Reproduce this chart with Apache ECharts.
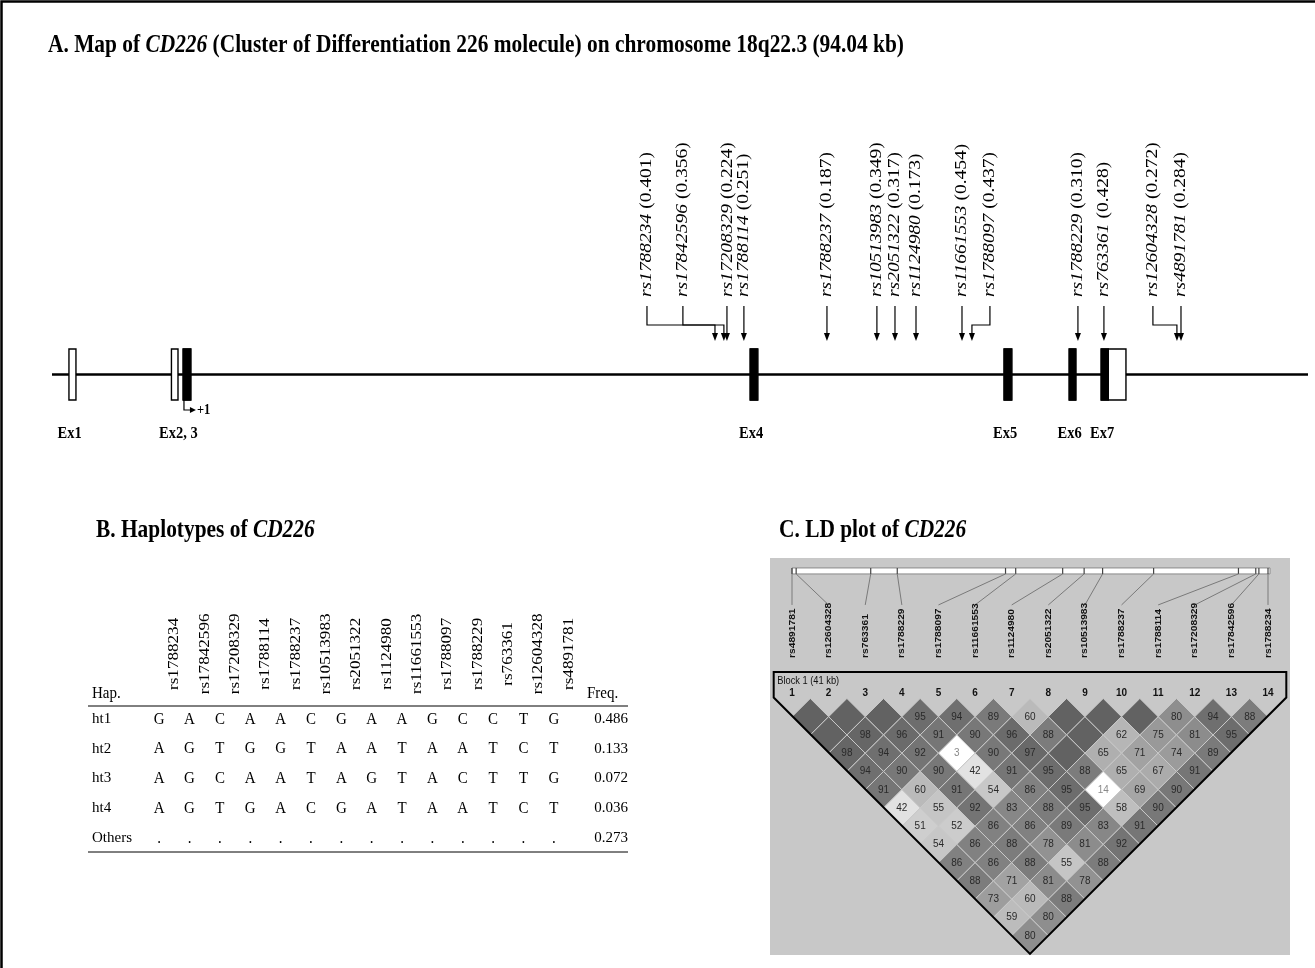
<!DOCTYPE html>
<html><head><meta charset="utf-8">
<script src="https://cdn.jsdelivr.net/npm/echarts@6/dist/echarts.min.js"></script>
<style>html,body{margin:0;padding:0;background:#fff}#c{width:1315px;height:968px}</style>
</head><body><div id="c"></div>
<script>
// ---------------- DATA ----------------
// SNPs in gene-map order (left to right), minor allele frequency, position (kb from start of Ex1)
const snpIds = ['rs1788234','rs17842596','rs17208329','rs1788114','rs1788237','rs10513983','rs2051322','rs1124980','rs11661553','rs1788097','rs1788229','rs763361','rs12604328','rs4891781'];
const snpMaf = [0.401,0.356,0.224,0.251,0.187,0.349,0.317,0.173,0.454,0.437,0.310,0.428,0.272,0.284];
const snpPosKb = [57.17,57.96,58.23,59.73,67.08,71.50,73.10,74.96,79.03,79.91,89.29,91.59,98.05,98.41];

// exons (kb), coding part of each exon (null = untranslated only)
const exonNames   = ['Ex1','Ex2','Ex3','Ex4','Ex5','Ex6','Ex7'];
const exonStartKb = [0.00, 9.07, 10.09, 60.27, 82.74, 88.50, 91.33];
const exonEndKb   = [0.62, 9.65, 10.80, 60.97, 83.45, 89.12, 93.54];
const cdsStartKb  = [null, null, 10.09, 60.27, 82.74, 88.50, 91.33];
const cdsEndKb    = [null, null, 10.80, 60.97, 83.45, 89.12, 92.04];
const exonLabels  = ['Ex1','Ex2, 3','Ex4','Ex5','Ex6','Ex7'];
const exonLabelGroups = [[0],[1,2],[3],[4],[5],[6]];
const regionKb = [-1.5, 109.65];
const txStartKb = 10.09; // +1

// haplotypes
const hapNames = ['ht1','ht2','ht3','ht4','Others'];
const ht1 = ['G','A','C','A','A','C','G','A','A','G','C','C','T','G'];
const ht2 = ['A','G','T','G','G','T','A','A','T','A','A','T','C','T'];
const ht3 = ['A','G','C','A','A','T','A','G','T','A','C','T','T','G'];
const ht4 = ['A','G','T','G','A','C','G','A','T','A','A','T','C','T'];
const htOthers = ['.','.','.','.','.','.','.','.','.','.','.','.','.','.'];
const hapFreq = [0.486,0.133,0.072,0.036,0.273];

// LD plot (D' x100), markers in Haploview order; row dN = pairs (i, i+N); 100 = D'=1 (blank)
const ldMarkers = ['rs4891781','rs12604328','rs763361','rs1788229','rs1788097','rs11661553','rs1124980','rs2051322','rs10513983','rs1788237','rs1788114','rs17208329','rs17842596','rs1788234'];
const ldD1  = [100,100,100,95,94,89,60,100,100,100,80,94,88];
const ldD2  = [100,98,96,91,90,96,88,100,62,75,81,95];
const ldD3  = [98,94,92,3,90,97,100,65,71,74,89];
const ldD4  = [94,90,90,42,91,95,88,65,67,91];
const ldD5  = [91,60,91,54,86,95,14,69,90];
const ldD6  = [42,55,92,83,88,95,58,90];
const ldD7  = [51,52,86,86,89,83,91];
const ldD8  = [54,86,88,78,81,92];
const ldD9  = [86,86,88,55,88];
const ldD10 = [88,71,81,78];
const ldD11 = [73,60,88];
const ldD12 = [59,80];
const ldD13 = [80];
const blockName = 'Block 1 (41 kb)';

// ---------------- LAYOUT / STYLE ----------------
const SERIF = '"Times New Roman","Liberation Serif",serif';
const SANS = '"Liberation Sans",Arial,sans-serif';
const K = 1.18; // vertical glyph stretch of the original figure
const snpLabelShiftPx = [-68,-41,1,0,0,0,0,0,0,18,0,0,-24,0];

const ldRows = [ldD1,ldD2,ldD3,ldD4,ldD5,ldD6,ldD7,ldD8,ldD9,ldD10,ldD11,ldD12,ldD13];
const ldPairs = [];
ldRows.forEach((row, r) => row.forEach((v, k) => ldPairs.push([k + 1, k + 2 + r, v])));
const kbMin = Math.min(...snpPosKb), kbMax = Math.max(...snpPosKb);
const physIdx = name => 1 + (kbMax - snpPosKb[snpIds.indexOf(name)]) / (kbMax - kbMin) * (ldMarkers.length - 1);

const hapRows = [ht1, ht2, ht3, ht4, htOthers];
const alleleData = [];
hapRows.forEach((row, r) => row.forEach((a, c) => alleleData.push([c, r, a])));

function grayOf(v) { const g = Math.min(255, Math.round(98 + (100 - v) * 2.2)); return 'rgb(' + g + ',' + g + ',' + g + ')'; }
function arrowHead(x, y) { return { type: 'polygon', shape: { points: [[x, y], [x - 3, y - 8], [x + 3, y - 8]] }, style: { fill: '#000' } }; }

const chart = echarts.init(document.getElementById('c'));
const option = {
  animation: false,
  backgroundColor: '#fff',
  grid: [
    { left: 52, width: 1256, top: 349, height: 51, outerBoundsMode: 'none' },
    { left: 144, width: 425, top: 704, height: 149, outerBoundsMode: 'none' },
    { left: 792, width: 476, top: 698.45, height: 255.5, outerBoundsMode: 'none' }
  ],
  xAxis: [
    { gridIndex: 0, type: 'value', min: regionKb[0], max: regionKb[1], show: false },
    { gridIndex: 1, type: 'category', data: snpIds, show: false },
    { gridIndex: 2, type: 'value', min: 1, max: 14, show: false }
  ],
  yAxis: [
    { gridIndex: 0, type: 'value', min: 0, max: 1, show: false },
    { gridIndex: 1, type: 'category', data: hapNames, inverse: true,
      axisLine: { show: false }, axisTick: { show: false }, splitLine: { show: false },
      axisLabel: { align: 'left', margin: 52, fontFamily: SERIF, fontSize: 15, color: '#000' } },
    { gridIndex: 1, type: 'category', position: 'right', data: hapFreq.map(f => f.toFixed(3)), inverse: true,
      axisLine: { show: false }, axisTick: { show: false }, splitLine: { show: false },
      axisLabel: { align: 'right', margin: 59, fontFamily: SERIF, fontSize: 15, color: '#000' } },
    { gridIndex: 2, type: 'value', min: 0, max: 14, inverse: true, show: false }
  ],
  graphic: [
    { type: 'polyline', shape: { points: [[1.5, 968], [1.5, 1.5], [1315, 1.5]] }, style: { fill: null, stroke: '#000', lineWidth: 2.5 } },
    { type: 'rect', shape: { x: 770, y: 558, width: 520, height: 397 }, style: { fill: '#c8c8c8' } },
    { type: 'text', x: 48, y: 45, scaleY: K, style: { text: 'A. Map of {i|CD226} (Cluster of Differentiation 226 molecule) on chromosome 18q22.3 (94.04 kb)',
      rich: { i: { fontStyle: 'italic', fontWeight: 'bold', fontFamily: SERIF, fontSize: 21.4 } },
      fontFamily: SERIF, fontWeight: 'bold', fontSize: 21.4, fill: '#000', verticalAlign: 'middle' } },
    { type: 'text', x: 96, y: 530, scaleY: K, style: { text: 'B. Haplotypes of {i|CD226}',
      rich: { i: { fontStyle: 'italic', fontWeight: 'bold', fontFamily: SERIF, fontSize: 21.4 } },
      fontFamily: SERIF, fontWeight: 'bold', fontSize: 21.4, fill: '#000', verticalAlign: 'middle' } },
    { type: 'text', x: 779, y: 530, scaleY: K, style: { text: 'C. LD plot of {i|CD226}',
      rich: { i: { fontStyle: 'italic', fontWeight: 'bold', fontFamily: SERIF, fontSize: 21.4 } },
      fontFamily: SERIF, fontWeight: 'bold', fontSize: 21.4, fill: '#000', verticalAlign: 'middle' } },
    { type: 'line', shape: { x1: 88, y1: 706, x2: 628, y2: 706 }, style: { stroke: '#000', lineWidth: 1 } },
    { type: 'line', shape: { x1: 88, y1: 852, x2: 628, y2: 852 }, style: { stroke: '#000', lineWidth: 1 } },
    { type: 'text', x: 92, y: 693, scaleY: K, style: { text: 'Hap.', fontFamily: SERIF, fontSize: 15, fill: '#000', verticalAlign: 'middle' } },
    { type: 'text', x: 587, y: 693, scaleY: K, style: { text: 'Freq.', fontFamily: SERIF, fontSize: 15, fill: '#000', verticalAlign: 'middle' } }
  ],
  series: [
    { // gene backbone
      type: 'custom', xAxisIndex: 0, yAxisIndex: 0, silent: true,
      data: [[regionKb[0], regionKb[1]]],
      renderItem: (p, api) => {
        const a = api.coord([api.value(0), 0.5]), b = api.coord([api.value(1), 0.5]);
        return { type: 'line', shape: { x1: a[0], y1: a[1], x2: b[0], y2: b[1] }, style: { stroke: '#000', lineWidth: 2.5 } };
      }
    },
    { // exons
      type: 'custom', xAxisIndex: 0, yAxisIndex: 0, silent: true,
      data: exonStartKb.map((s, i) => [s, exonEndKb[i]]),
      renderItem: (p, api) => {
        const i = p.dataIndex;
        const a = api.coord([api.value(0), 1]), b = api.coord([api.value(1), 0]);
        const ch = [{ type: 'rect', shape: { x: a[0], y: a[1], width: b[0] - a[0], height: b[1] - a[1] }, style: { fill: '#fff', stroke: '#000', lineWidth: 1.4 } }];
        if (cdsStartKb[i] !== null) {
          const c = api.coord([cdsStartKb[i], 1]), d = api.coord([cdsEndKb[i], 0]);
          ch.push({ type: 'rect', shape: { x: c[0], y: c[1] - 0.7, width: d[0] - c[0], height: d[1] - c[1] + 1.4 }, style: { fill: '#000' } });
        }
        return { type: 'group', children: ch };
      }
    },
    { // exon labels
      type: 'custom', xAxisIndex: 0, yAxisIndex: 0, silent: true,
      data: exonLabelGroups.map(g => {
        const last = g[g.length - 1];
        return [(exonStartKb[g[0]] + (cdsEndKb[last] !== null ? cdsEndKb[last] : exonEndKb[last])) / 2 - 0.25];
      }),
      renderItem: (p, api) => {
        const a = api.coord([api.value(0), 0]);
        return { type: 'text', x: a[0], y: a[1] + 34, scaleY: K, style: { text: exonLabels[p.dataIndex], fontFamily: SERIF, fontWeight: 'bold', fontSize: 14.5, fill: '#000', align: 'center', verticalAlign: 'middle' } };
      }
    },
    { // +1 transcription/translation start
      type: 'custom', xAxisIndex: 0, yAxisIndex: 0, silent: true,
      data: [[txStartKb]],
      renderItem: (p, api) => {
        const a = api.coord([api.value(0), 0]);
        const x = a[0] + 1, y = a[1];
        return { type: 'group', children: [
          { type: 'polyline', shape: { points: [[x, y], [x, y + 10], [x + 8, y + 10]] }, style: { stroke: '#000', lineWidth: 1.2, fill: null } },
          { type: 'polygon', shape: { points: [[x + 12, y + 10], [x + 6, y + 7], [x + 6, y + 13]] }, style: { fill: '#000' } },
          { type: 'text', x: x + 13, y: y + 10, scaleY: K, style: { text: '+1', fontFamily: SERIF, fontWeight: 'bold', fontSize: 12.5, fill: '#000', verticalAlign: 'middle' } }
        ] };
      }
    },
    { // SNP arrows and labels
      type: 'custom', xAxisIndex: 0, yAxisIndex: 0, silent: true,
      data: snpPosKb.map((kb, i) => [kb, snpMaf[i]]),
      renderItem: (p, api) => {
        const i = p.dataIndex;
        const a = api.coord([api.value(0), 1]);
        const ax = a[0], top = a[1];
        const lx = ax + snpLabelShiftPx[i];
        const lineTop = top - 43, elbow = top - 24, tip = top - 8;
        const ch = [];
        if (Math.abs(lx - ax) > 1.5) {
          ch.push({ type: 'polyline', shape: { points: [[lx, lineTop], [lx, elbow], [ax, elbow], [ax, tip - 4]] }, style: { stroke: '#000', lineWidth: 1.2, fill: null } });
        } else {
          ch.push({ type: 'line', shape: { x1: ax, y1: lineTop, x2: ax, y2: tip - 4 }, style: { stroke: '#000', lineWidth: 1.2 } });
        }
        ch.push(arrowHead(ax, tip));
        ch.push({ type: 'text', x: lx, y: top - 52, rotation: Math.PI / 2, scaleX: K,
          style: { text: '{i|' + snpIds[i] + '} (' + api.value(1).toFixed(3) + ')',
            rich: { i: { fontStyle: 'italic', fontFamily: SERIF, fontSize: 16.5, fill: '#000' } },
            fontFamily: SERIF, fontSize: 16.5, fill: '#000', align: 'left', verticalAlign: 'middle' } });
        return { type: 'group', children: ch };
      }
    },
    { // haplotype alleles
      type: 'custom', xAxisIndex: 1, yAxisIndex: 1, silent: true,
      data: alleleData,
      renderItem: (p, api) => {
        const a = api.coord([api.value(0), api.value(1)]);
        return { type: 'text', x: a[0], y: a[1], scaleY: K, style: { text: alleleData[p.dataIndex][2], fontFamily: SERIF, fontSize: 15, fill: '#000', align: 'center', verticalAlign: 'middle' } };
      }
    },
    { // haplotype column headers
      type: 'custom', xAxisIndex: 1, yAxisIndex: 1, silent: true,
      data: snpIds.map((s, c) => [c, 0]),
      renderItem: (p, api) => {
        const a = api.coord([api.value(0), 0]);
        const half = api.size([1, 0])[0] / 2;
        return { type: 'text', x: a[0] + half, y: a[1] - 65, rotation: Math.PI / 2, scaleX: K,
          style: { text: snpIds[p.dataIndex], fontFamily: SERIF, fontSize: 14.5, fill: '#000', align: 'center', verticalAlign: 'middle' } };
      }
    },
    { // LD physical map bar
      type: 'custom', xAxisIndex: 2, yAxisIndex: 3, silent: true,
      data: [[1, ldMarkers.length]],
      renderItem: (p, api) => {
        const a = api.coord([api.value(0), 0]), b = api.coord([api.value(1), 0]);
        return { type: 'rect', shape: { x: a[0], y: a[1] - 130.5, width: b[0] - a[0] + 2, height: 6 }, style: { fill: '#fff', stroke: '#8a8a8a', lineWidth: 1 } };
      }
    },
    { // LD markers: ticks, connectors, names, numbers
      type: 'custom', xAxisIndex: 2, yAxisIndex: 3, silent: true,
      data: ldMarkers.map((n, k) => [k + 1, physIdx(n)]),
      renderItem: (p, api) => {
        const m = api.coord([api.value(0), 0]), q = api.coord([api.value(1), 0]);
        const t0 = m[1];
        return { type: 'group', children: [
          { type: 'line', shape: { x1: q[0], y1: t0 - 130.5, x2: q[0], y2: t0 - 124.5 }, style: { stroke: '#444', lineWidth: 1.2 } },
          { type: 'line', shape: { x1: q[0], y1: t0 - 124.5, x2: m[0], y2: t0 - 93.5 }, style: { stroke: '#7a7a7a', lineWidth: 1 } },
          { type: 'text', x: m[0], y: t0 - 40.5, rotation: Math.PI / 2, scaleX: 1.1,
            style: { text: ldMarkers[p.dataIndex], fontFamily: SANS, fontWeight: 'bold', fontSize: 9.3, fill: '#111', align: 'left', verticalAlign: 'middle' } },
          { type: 'text', x: m[0], y: t0 - 5.5, scaleY: 1.1,
            style: { text: String(p.dataIndex + 1), fontFamily: SANS, fontWeight: 'bold', fontSize: 10, fill: '#111', align: 'center', verticalAlign: 'middle' } }
        ] };
      }
    },
    { // LD cells
      type: 'custom', xAxisIndex: 2, yAxisIndex: 3, silent: true,
      data: ldPairs,
      renderItem: (p, api) => {
        const i = api.value(0), j = api.value(1), v = api.value(2);
        const mid = (i + j) / 2, d = j - i;
        const pts = [api.coord([mid, d - 1]), api.coord([mid + 0.5, d]), api.coord([mid, d + 1]), api.coord([mid - 0.5, d])];
        const c = api.coord([mid, d]);
        const ch = [{ type: 'polygon', shape: { points: pts }, style: { fill: grayOf(v), stroke: '#c9c9c9', lineWidth: 1 } }];
        if (v < 100) ch.push({ type: 'text', x: c[0], y: c[1], scaleY: 1.1, style: { text: String(v), fontFamily: SANS, fontSize: 10, fill: v < 30 ? '#8a8a8a' : '#2a2a2a', align: 'center', verticalAlign: 'middle' } });
        return { type: 'group', children: ch };
      }
    },
    { // haplotype block outline
      type: 'custom', xAxisIndex: 2, yAxisIndex: 3, silent: true,
      data: [[1, ldMarkers.length]],
      renderItem: (p, api) => {
        const i0 = api.value(0) - 0.5, i1 = api.value(1) + 0.5, n = api.value(1) - api.value(0);
        const pts = [api.coord([i0, -1.45]), api.coord([i1, -1.45]), api.coord([i1, -0.05]), api.coord([(i0 + i1) / 2, n + 1]), api.coord([i0, -0.05])];
        return { type: 'group', children: [
          { type: 'polygon', shape: { points: pts }, style: { fill: null, stroke: '#000', lineWidth: 2 } },
          { type: 'text', x: pts[0][0] + 3.5, y: pts[0][1] + 9.5, scaleY: 1.1, style: { text: blockName, fontFamily: SANS, fontSize: 9.3, fill: '#111', align: 'left', verticalAlign: 'middle' } }
        ] };
      }
    }
  ]
};
chart.setOption(option);
</script></body></html>
